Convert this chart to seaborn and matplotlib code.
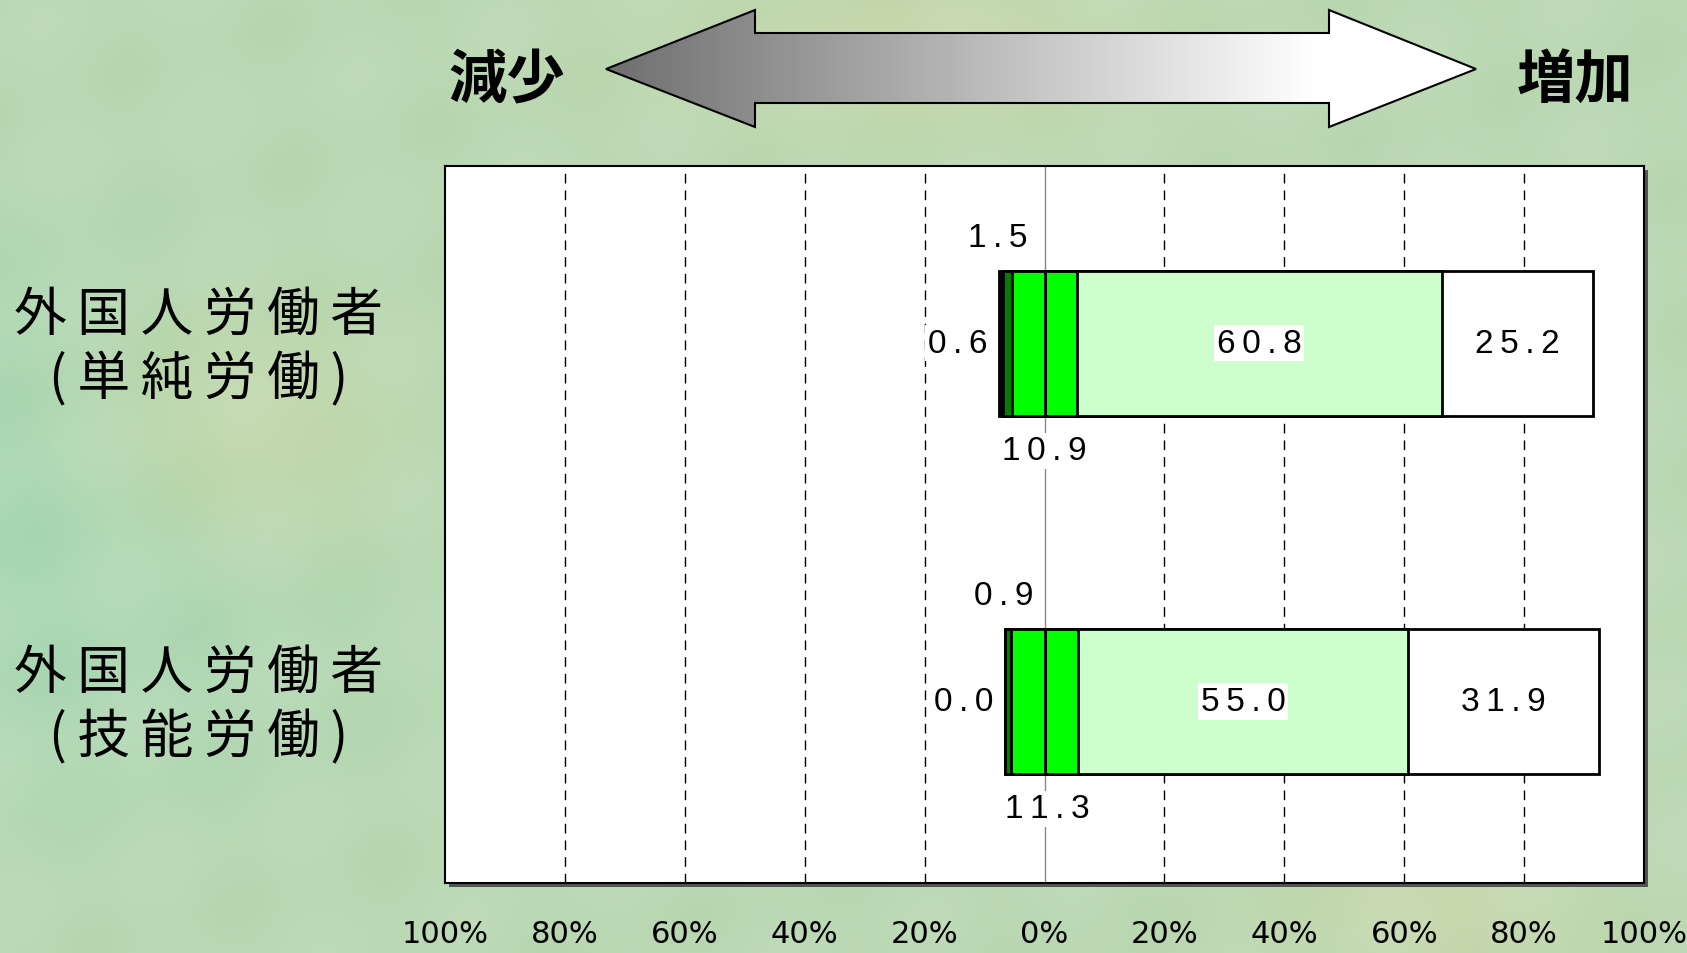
import numpy as np
import pandas as pd
import matplotlib
matplotlib.use("Agg")
import matplotlib.pyplot as plt
from matplotlib import font_manager
from matplotlib.patches import Polygon, Rectangle
import seaborn as sns

categories = ["外国人労働者\n(単純労働)", "外国人労働者\n(技能労働)"]
strong_dec = [0.6, 0.0]
dec = [1.5, 0.9]
same = [10.9, 11.3]
inc = [60.8, 55.0]
strong_inc = [25.2, 31.9]
tick_values = [-100, -80, -60, -40, -20, 0, 20, 40, 60, 80, 100]
tick_labels = ["100%", "80%", "60%", "40%", "20%", "0%", "20%", "40%", "60%", "80%", "100%"]

sns.set_theme(style="white")
plt.rcParams["font.family"] = ["Noto Sans CJK JP", "DejaVu Sans"]
plt.rcParams["text.color"] = "black"
plt.rcParams["xtick.color"] = "black"

names = {f.name for f in font_manager.fontManager.ttflist}
if "Liberation Sans Narrow" in names:
    tick_font, tick_size = "Liberation Sans Narrow", 30
else:
    tick_font, tick_size = "DejaVu Sans", 22


def spaced(s):
    # the original labels are drawn with wide letter spacing
    return "\n".join("\u2009".join(line) for line in s.split("\n"))


W, H = 1687, 954
fig = plt.figure(figsize=(W / 100, H / 100), dpi=100)

# background
bg = fig.add_axes([0, 0, 1, 1])
bg.set_xlim(0, W)
bg.set_ylim(H, 0)
bg.axis("off")
yy, xx = np.mgrid[0:H:4, 0:W:4]
u = xx / W
v = yy / H
base = np.array([0.72, 0.84, 0.69])
green = np.array([0.64, 0.84, 0.70])
warm = np.array([0.82, 0.84, 0.64])
light = np.array([0.80, 0.89, 0.78])
w_green = np.exp(-((u - 0.0) ** 2 / 0.05 + (v - 0.55) ** 2 / 0.08))[..., None]
w_warm = (np.exp(-((u - 0.15) ** 2 / 0.01 + (v - 0.45) ** 2 / 0.02))
          + np.exp(-((u - 0.55) ** 2 / 0.02 + (v - 0.05) ** 2 / 0.01))
          + np.exp(-((u - 0.85) ** 2 / 0.01 + (v - 0.95) ** 2 / 0.01)))[..., None]
w_light = (0.5 + 0.5 * np.sin(xx / 37.0 + yy / 53.0) * np.cos(yy / 41.0 - xx / 71.0))[..., None] * 0.35
img = base * (1 - w_green) + green * w_green
img = img * (1 - np.clip(w_warm, 0, 1) * 0.6) + warm * np.clip(w_warm, 0, 1) * 0.6
img = img * (1 - w_light) + light * w_light
bg.imshow(np.clip(img, 0, 1), extent=(0, W, H, 0), aspect="auto", interpolation="bilinear")

# double arrow with gradient
arrow_pts = [(606, 70), (755, 11), (755, 34), (1329, 34), (1329, 11), (1476, 70),
             (1329, 128), (1329, 104), (755, 104), (755, 128)]
arrow = Polygon(arrow_pts, closed=True, facecolor="none", edgecolor="black", lw=1.5, zorder=3)
bg.add_patch(arrow)
grad = np.clip(np.linspace(0.40, 1.0, 256) * 1.08, 0, 1)
gimg = bg.imshow(np.tile(grad, (10, 1)), cmap="gray", vmin=0, vmax=1,
                 extent=(606, 1420, 128, 11), aspect="auto", zorder=2)
clip = Polygon(arrow_pts, closed=True, transform=bg.transData)
gimg.set_clip_path(clip)
bg.add_patch(Polygon([(1420, 11), (1476, 11), (1476, 128), (1420, 128)], closed=True,
                     facecolor="white", edgecolor="none", zorder=2, clip_path=clip))
bg.set_xlim(0, W)
bg.set_ylim(H, 0)

bg.text(507, 81, "減少", fontsize=42, fontweight="bold", ha="center", va="center")
bg.text(1575, 81, "増加", fontsize=42, fontweight="bold", ha="center", va="center")

# frame shadow
bg.add_patch(Rectangle((449, 171), 1199, 717, facecolor="#555555", edgecolor="none", zorder=1))

# main chart
left, right, top, bottom = 445, 1644, 167, 884
ax = fig.add_axes([left / W, 1 - bottom / H, (right - left) / W, (bottom - top) / H])
ax.set_facecolor("white")

half = np.array(same) / 2
neg_same = -half
neg_dec = neg_same - np.array(dec)
neg_sdec = neg_dec - np.array(strong_dec)
pos_same = half
pos_inc = pos_same + np.array(inc)
pos_sinc = pos_inc + np.array(strong_inc)

layers = [
    (pos_sinc, "white"),
    (pos_inc, "#ccffcc"),
    (pos_same, "#00ff00"),
    (neg_sdec, "black"),
    (neg_dec, "#008000"),
    (neg_same, "#00ff00"),
]
for ends, color in layers:
    df = pd.DataFrame({"cat": categories, "end": ends})
    sns.barplot(data=df, x="end", y="cat", orient="h", color=color, saturation=1,
                edgecolor="black", linewidth=2, width=0.405, errorbar=None, ax=ax, zorder=3)

for t in [-80, -60, -40, -20, 20, 40, 60, 80]:
    ax.axvline(t, color="black", lw=1, dashes=(7, 5), zorder=1)
ax.axvline(0, color="#888888", lw=1, zorder=1)

ax.set_xlim(-100, 100)
ax.set_ylim(1.507, -0.495)
ax.set_xticks(tick_values)
ax.set_xticklabels(tick_labels, fontfamily=tick_font, fontsize=tick_size, color="black")
ax.tick_params(axis="x", length=0, pad=26)
ax.set_yticks([])
ax.set_xlabel("")
ax.set_ylabel("")
for s in ax.spines.values():
    s.set_visible(True)
    s.set_color("black")
    s.set_linewidth(1.5)

box = dict(facecolor="white", edgecolor="none", pad=2)
num_font = dict(fontfamily=["Liberation Sans", "DejaVu Sans"], fontsize=24, zorder=5)
label_x = -100 - 246 * 200 / 1199
for i in range(len(categories)):
    ax.text(label_x, i + 0.01, spaced(categories[i]), ha="center", va="center",
            fontsize=38, linespacing=1.22, clip_on=False)
    ax.text(neg_sdec[i] - 0.2, i - 0.295, spaced(f"{dec[i]:.1f}"), ha="center", va="center", bbox=box, **num_font)
    ax.text(neg_sdec[i] - 2.0, i, spaced(f"{strong_dec[i]:.1f}"), ha="right", va="center", bbox=box, **num_font)
    ax.text(0.5 * i, i + 0.30, spaced(f"{same[i]:.1f}"), ha="center", va="center", bbox=box, **num_font)
    ax.text((pos_same[i] + pos_inc[i]) / 2, i, spaced(f"{inc[i]:.1f}"), ha="center", va="center", bbox=box, **num_font)
    ax.text((pos_inc[i] + pos_sinc[i]) / 2, i, spaced(f"{strong_inc[i]:.1f}"), ha="center", va="center", **num_font)

fig.savefig("out.png", dpi=100, facecolor=fig.get_facecolor())
